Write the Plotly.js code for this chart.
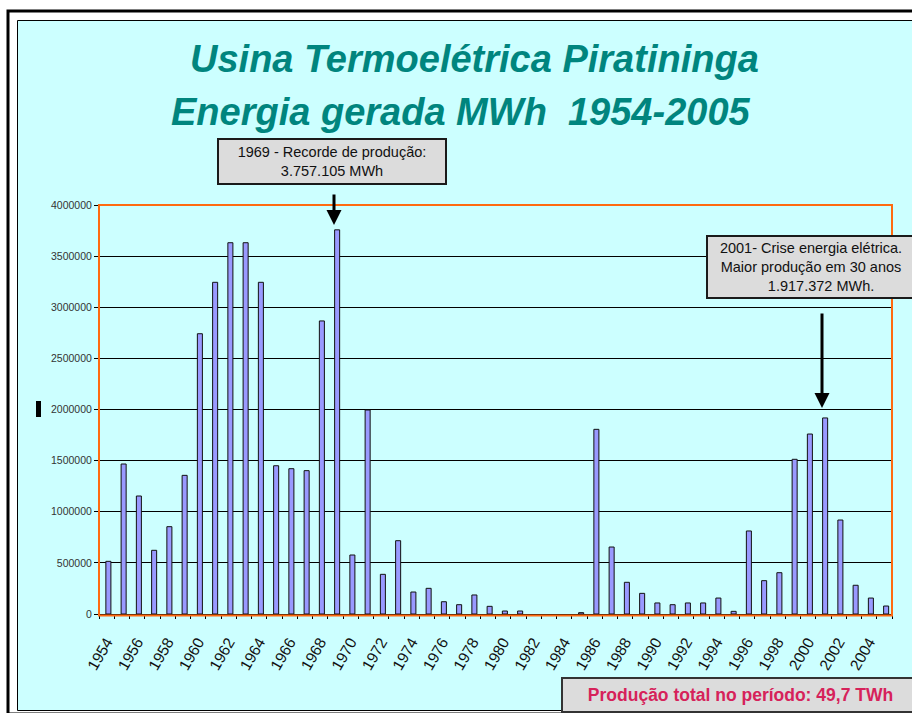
<!DOCTYPE html>
<html>
<head>
<meta charset="utf-8">
<script src="https://cdn.plot.ly/plotly-3.0.1.min.js"></script>
<style>
html,body{margin:0;padding:0;background:#fff;}
#chart{width:912px;height:713px;}
</style>
</head>
<body>
<div id="chart"></div>
<script>
// ---- data ----
const years = [1954,1955,1956,1957,1958,1959,1960,1961,1962,1963,
               1964,1965,1966,1967,1968,1969,1970,1971,1972,1973,
               1974,1975,1976,1977,1978,1979,1980,1981,1982,1983,
               1984,1985,1986,1987,1988,1989,1990,1991,1992,1993,
               1994,1995,1996,1997,1998,1999,2000,2001,2002,2003,
               2004,2005];
const energyMWh = [515000,1467000,1154000,623000,854000,1356000,2741000,3244000,3631000,3631000,
                   3244000,1450000,1421000,1402000,2866000,3757105,577000,1995000,388000,717000,
                   215000,251000,120000,91000,186000,75000,29000,29000,null,null,
                   null,13000,1806000,655000,310000,202000,108000,91000,108000,108000,
                   156000,26000,812000,326000,404000,1513000,1760000,1917372,919000,281000,
                   156000,78000];
const yearTickLabels = ['1954','1956','1958','1960','1962','1964','1966','1968','1970','1972',
                        '1974','1976','1978','1980','1982','1984','1986','1988','1990','1992',
                        '1994','1996','1998','2000','2002','2004'];
const yTickValues = [0,500000,1000000,1500000,2000000,2500000,3000000,3500000,4000000];

const titleLine1 = 'Usina Termoelétrica Piratininga';
const titleLine2 = 'Energia gerada MWh  1954-2005';
const note1969 = '1969 - Recorde de produção:<br>3.757.105 MWh';
const note2001 = '2001- Crise energia elétrica.<br>Maior produção em 30 anos<br>\u00a0\u00a0\u00a0\u00a0\u00a01.917.372 MWh.';
const noteTotal = '<b>Produção total no período: 49,7 TWh</b>';

// ---- layout helpers (pixel -> paper) ----
const W = 912, H = 713;
const M = {l: 99, r: 20, t: 205, b: 99};
const PW = W - M.l - M.r, PH = H - M.t - M.b;
const px = v => (v - M.l) / PW;
const py = v => (H - M.b - v) / PH;

const FONT = 'Arial, "Liberation Sans", sans-serif';

const trace = {
  type: 'bar',
  x: years,
  y: energyMWh,
  width: 0.33,
  offset: -0.05,
  marker: {color: '#9999FF', line: {color: '#111111', width: 1}},
  hoverinfo: 'skip'
};

const layout = {
  width: W, height: H,
  margin: M,
  paper_bgcolor: '#ffffff',
  plot_bgcolor: 'rgba(0,0,0,0)',
  showlegend: false,
  font: {family: FONT, color: '#111'},
  xaxis: {
    type: 'linear',
    range: [years[0] - 0.5, years[years.length - 1] + 0.5],
    tickvals: yearTickLabels.map(Number),
    ticktext: yearTickLabels,
    tickangle: -60,
    ticks: '',
    ticklabelstandoff: 12,
    tickfont: {family: FONT, size: 15.5, color: '#111'},
    showgrid: false,
    zeroline: false,
    showline: true,
    linecolor: '#000',
    linewidth: 1,
    minor: {tick0: years[0] - 0.5, dtick: 1, ticks: 'outside', ticklen: 4, tickcolor: '#000', tickwidth: 1, showgrid: false}
  },
  yaxis: {
    range: [0, 4000000],
    tickvals: yTickValues,
    tickformat: 'd',
    ticks: 'outside',
    ticklen: 4,
    tickcolor: '#000',
    tickfont: {family: FONT, size: 10.5, color: '#333'},
    showgrid: true,
    gridcolor: '#000',
    gridwidth: 1,
    zeroline: false,
    showline: false
  },
  shapes: [
    {type: 'rect', xref: 'paper', yref: 'paper', layer: 'below',
     x0: px(8), x1: px(930), y0: py(11), y1: py(714),
     line: {color: '#000', width: 3}, fillcolor: 'rgba(0,0,0,0)'},
    {type: 'rect', xref: 'paper', yref: 'paper', layer: 'below',
     x0: px(17.5), x1: px(930), y0: py(20.5), y1: py(710.5),
     line: {color: '#000', width: 1}, fillcolor: '#CCFFFF'},
    {type: 'rect', xref: 'paper', yref: 'paper', layer: 'above',
     x0: px(99), x1: px(892), y0: py(205), y1: py(615.5),
     line: {color: '#FF6A10', width: 2}, fillcolor: 'rgba(0,0,0,0)'},
    {type: 'rect', xref: 'paper', yref: 'paper', layer: 'above',
     x0: px(36), x1: px(41), y0: py(401), y1: py(417),
     line: {color: '#000', width: 0}, fillcolor: '#000'}
  ],
  annotations: [
    {xref: 'paper', yref: 'paper', x: px(474), y: py(59), xanchor: 'center', yanchor: 'middle',
     showarrow: false, text: '<b><i>' + titleLine1 + '</i></b>',
     font: {family: FONT, size: 38, color: '#00857E'}},
    {xref: 'paper', yref: 'paper', x: px(461), y: py(112), xanchor: 'center', yanchor: 'middle',
     showarrow: false, text: '<b><i>' + titleLine2 + '</i></b>',
     font: {family: FONT, size: 38, color: '#00857E'}},
    {xref: 'paper', yref: 'paper', x: px(332), y: py(161.5), xanchor: 'center', yanchor: 'middle',
     showarrow: false, text: note1969, width: 226, height: 43, borderpad: 0,
     bgcolor: '#DCDCDC', bordercolor: '#1a1a1a', borderwidth: 2,
     font: {family: FONT, size: 14.5, color: '#111'}},
    {xref: 'paper', yref: 'paper', x: px(811), y: py(267), xanchor: 'center', yanchor: 'middle',
     showarrow: false, text: note2001, width: 206, height: 60, borderpad: 0,
     bgcolor: '#DCDCDC', bordercolor: '#1a1a1a', borderwidth: 2,
     font: {family: FONT, size: 14.5, color: '#111'}},
    {xref: 'paper', yref: 'paper', x: px(740.5), y: py(695), xanchor: 'center', yanchor: 'middle',
     showarrow: false, text: noteTotal, width: 355, height: 32, borderpad: 0,
     bgcolor: '#DCDCDC', bordercolor: '#333', borderwidth: 2,
     font: {family: FONT, size: 17.5, color: '#D6225A'}},
    {xref: 'paper', yref: 'paper', x: px(334), y: py(225), ax: 0, ay: -32,
     showarrow: true, arrowhead: 2, arrowsize: 1, arrowwidth: 3, arrowcolor: '#000', text: ''},
    {xref: 'paper', yref: 'paper', x: px(822), y: py(408), ax: 0, ay: -96,
     showarrow: true, arrowhead: 2, arrowsize: 1, arrowwidth: 3, arrowcolor: '#000', text: ''}
  ]
};

Plotly.newPlot('chart', [trace], layout, {displayModeBar: false, staticPlot: true});
</script>
</body>
</html>
